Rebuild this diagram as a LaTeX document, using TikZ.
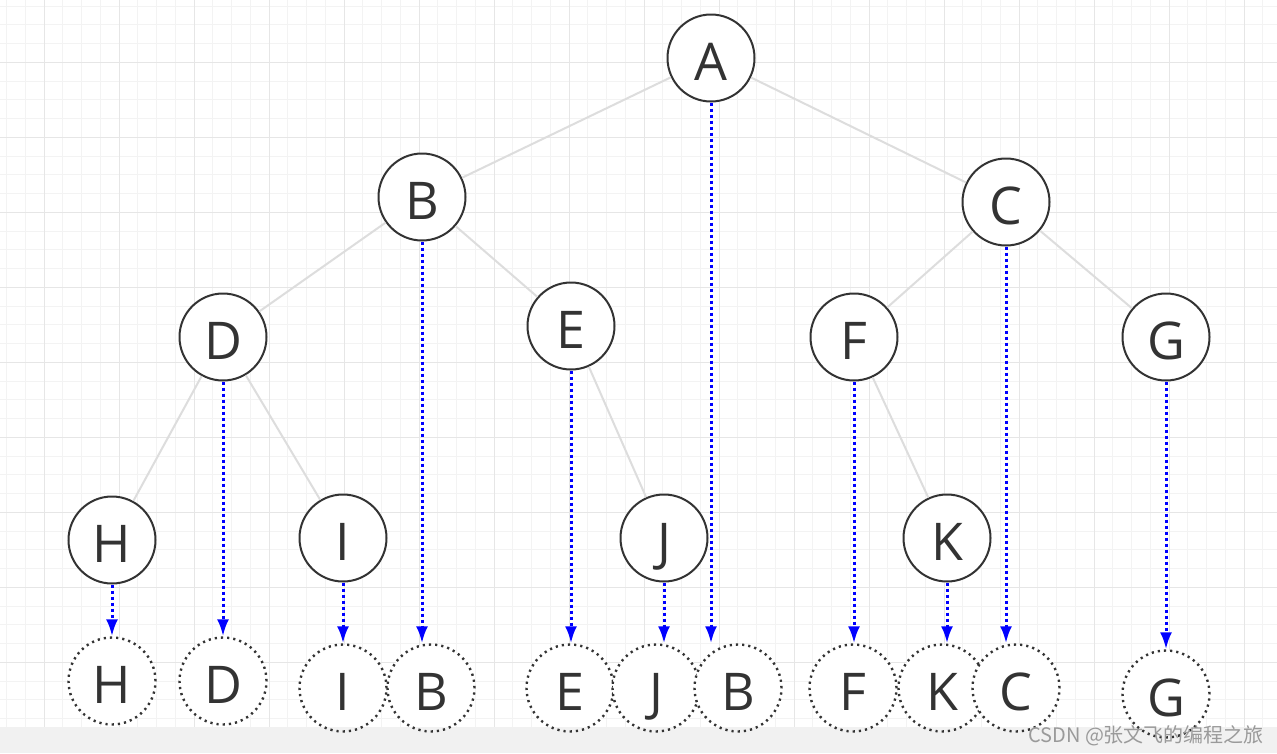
\documentclass[tikz,border=0pt]{standalone}
\usepackage{fontspec}
\newfontfamily\lblfont{Open Sans}
\newfontfamily\cjk{Noto Sans CJK SC}
\usepackage{tikz}
\usetikzlibrary{arrows.meta, positioning, calc}
\definecolor{ink}{HTML}{333333}
\definecolor{edgegray}{HTML}{DDDDDD}
\definecolor{gridminor}{HTML}{F3F3F3}
\definecolor{gridmajor}{HTML}{E6E6E6}
\definecolor{barfill}{HTML}{F1F1F1}
\definecolor{ptrblue}{HTML}{0000FF}
\definecolor{markgray}{HTML}{9A9A9A}

\begin{document}
\begin{tikzpicture}[
  x=1pt, y=-1pt,
  minorline/.style={gridminor, line width=1pt},
  majorline/.style={gridmajor, line width=1.2pt},
  tn/.style={circle, draw=ink, line width=2pt, fill=white, minimum size=87pt, inner sep=0pt,
    text=ink, font=\lblfont\fontsize{52}{60}\selectfont, text height=44pt, text depth=0pt},
  cp/.style={circle, draw=ink, line width=2.4pt, dash pattern=on 2.2pt off 4pt, minimum size=87pt, inner sep=0pt,
    text=ink, font=\lblfont\fontsize{52}{60}\selectfont, text height=44pt, text depth=0pt,
    path picture={\fill[white] (path picture bounding box.north west) rectangle (path picture bounding box.east |- barTop);}},
  edge/.style={draw=edgegray, line width=2pt},
  ptr/.style={draw=ptrblue, line width=3pt, dash pattern=on 3pt off 3pt, -{Latex[length=17pt, width=12pt]}}
  ]
  \useasboundingbox (0,0) rectangle (1277,753);
  \fill[white] (0,0) rectangle (1277,753);
  % grid
  \foreach \i in {0,...,68} \draw[minorline] ({6.7+18.75*\i},0) -- ({6.7+18.75*\i},753);
  \foreach \i in {0,...,40} \draw[minorline] (0,{6+18.75*\i}) -- (1277,{6+18.75*\i});
  \foreach \i in {0,...,16} \draw[majorline] ({44.3+75*\i},0) -- ({44.3+75*\i},753);
  \foreach \i in {0,...,9} \draw[majorline] (0,{62.3+75*\i}) -- (1277,{62.3+75*\i});
  % bottom bar
  \coordinate (barTop) at (0,727);
  \fill[barfill] (barTop) rectangle (1277,753);

  % tree
  \node[tn] (A) at (711,58) {A};
  \node[tn] (B) at (422,197) {B};
  \node[tn] (C) at (1006,202) {C};
  \node[tn] (D) at (223,337) {D};
  \node[tn] (E) at (571,326) {E};
  \node[tn] (F) at (854,337) {F};
  \node[tn] (G) at (1166,337) {G};
  \node[tn] (H) at (112,540) {H};
  \node[tn] (I) at (343,538) {I};
  \node[tn] (J) at (664,538) {J};
  \node[tn] (K) at (947,538) {K};
  \draw[edge] (A) -- (B); \draw[edge] (A) -- (C);
  \draw[edge] (B) -- (D); \draw[edge] (B) -- (E);
  \draw[edge] (C) -- (F); \draw[edge] (C) -- (G);
  \draw[edge] (D) -- (H); \draw[edge] (D) -- (I);
  \draw[edge] (E) -- (J); \draw[edge] (F) -- (K);

  % visit order
  \node[cp] (H2) at (112,681) {H};
  \node[cp] (D2) at (223,681) {D};
  \node[cp] (I2) at (343,688) {I};
  \node[cp] (B2) at (431,688) {B};
  \node[cp] (E2) at (570,688) {E};
  \node[cp] (J2) at (656,688) {J};
  \node[cp] (B3) at (738,688) {B};
  \node[cp] (F2) at (853,688) {F};
  \node[cp] (K2) at (942,688) {K};
  \node[cp] (C2) at (1016,688) {C};
  \node[cp] (G2) at (1166,694) {G};

  \draw[ptr] (H) -- (H |- H2.north);
  \draw[ptr] (D) -- (D |- D2.north);
  \draw[ptr] (I) -- (I |- I2.north);
  \draw[ptr] (B) -- (B |- B2.north);
  \draw[ptr] (E) -- (E |- E2.north);
  \draw[ptr] (J) -- (J |- J2.north);
  \draw[ptr] (A) -- (A |- B3.north);
  \draw[ptr] (F) -- (F |- F2.north);
  \draw[ptr] (K) -- (K |- K2.north);
  \draw[ptr] (C) -- (C |- C2.north);
  \draw[ptr] (G) -- (G |- G2.north);

  \node[anchor=west, inner sep=0pt, text=markgray, font=\cjk\fontsize{20}{24}\selectfont] (mark) at (1028,736) {CSDN @张文飞的编程之旅};
\end{tikzpicture}
\end{document}
